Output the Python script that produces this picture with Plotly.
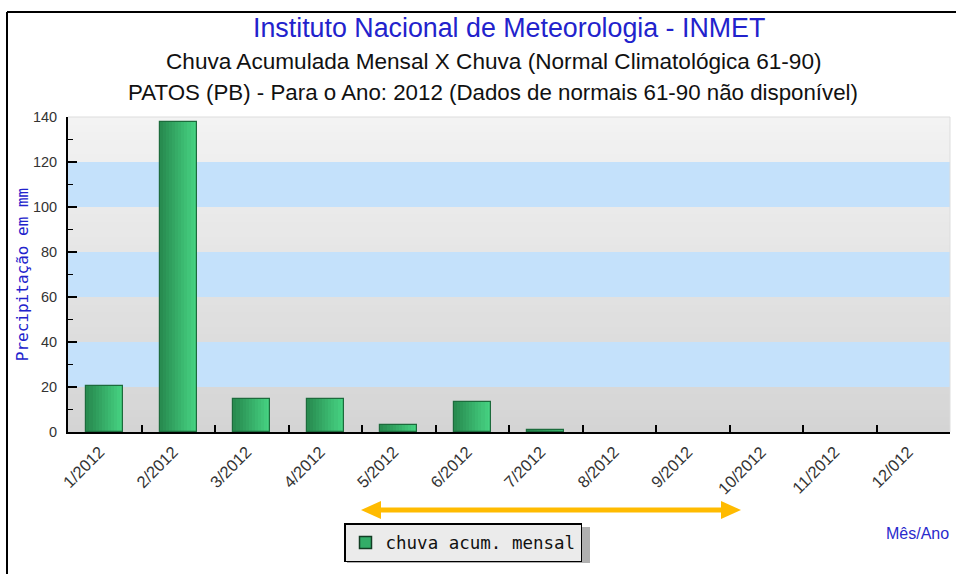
import plotly.graph_objects as go

# ---- data ----
months = ["1/2012", "2/2012", "3/2012", "4/2012", "5/2012", "6/2012",
          "7/2012", "8/2012", "9/2012", "10/2012", "11/2012", "12/012"]
rain = [20.6, 137.8, 14.7, 14.7, 3.1, 13.3, 0.9, 0, 0, 0, 0, 0]
y_ticks = [0, 20, 40, 60, 80, 100, 120, 140]
series_name = "chuva acum. mensal"

# ---- geometry helpers (pixel -> paper) ----
L, R, T, B = 68, 950, 117, 432
W, H = 956, 574
def px(x):
    return (x - L) / (R - L)
def py(y):
    return (B - y) / (B - T)

def lerp_color(c1, c2, t):
    return "rgb(%d,%d,%d)" % tuple(int(round(a + (b - a) * t)) for a, b in zip(c1, c2))

fig = go.Figure()

# gradient bars built from slices
N = 12
bw = 0.5
dark, light = (40, 140, 80), (70, 210, 130)
for i in range(N):
    fig.add_trace(go.Bar(
        x=months, y=rain, width=bw / N * 1.05, offset=-bw / 2 + i * bw / N,
        marker=dict(color=lerp_color(dark, light, i / (N - 1)), line=dict(width=0)),
        showlegend=False, hoverinfo="skip"))
# outline
fig.add_trace(go.Bar(
    x=months, y=rain, width=bw, offset=-bw / 2,
    marker=dict(color="rgba(0,0,0,0)",
                line=dict(color="#1c6b3c", width=[1.2 if v > 0 else 0 for v in rain])),
    showlegend=False, name=series_name))
# legend entry
fig.add_trace(go.Bar(
    x=months, y=[None] * len(months), name=series_name,
    marker=dict(color="#32ad68", line=dict(color="#123d24", width=1.5)),
    showlegend=True))

shapes = []
# background bands
blue = "#c4e1fb"
gtop, gbot = (243, 243, 243), (212, 212, 212)
for k in range(7):
    lo, hi = k * 20, (k + 1) * 20
    if k % 2 == 1:
        shapes.append(dict(type="rect", xref="paper", yref="y", x0=0, x1=1, y0=lo, y1=hi,
                           fillcolor=blue, line=dict(width=0), layer="below"))
    else:
        S = 6
        for s in range(S):
            a = lo + (hi - lo) * s / S
            b = lo + (hi - lo) * (s + 1) / S
            t = 1 - ((a + b) / 2) / 140
            top = b if s == S - 1 else b + 0.6
            shapes.append(dict(type="rect", xref="paper", yref="y", x0=0, x1=1, y0=a, y1=top,
                               fillcolor=lerp_color(gtop, gbot, t), line=dict(width=0),
                               layer="below"))
# faint plot border (top/right)
shapes.append(dict(type="line", xref="paper", yref="paper", x0=0, x1=1, y0=1, y1=1,
                   line=dict(color="#dddddd", width=1)))
shapes.append(dict(type="line", xref="paper", yref="paper", x0=1, x1=1, y0=0, y1=1,
                   line=dict(color="#dddddd", width=1)))
# outer frame (top and left)
shapes.append(dict(type="line", xref="paper", yref="paper", x0=px(7), x1=px(956),
                   y0=py(12), y1=py(12), line=dict(color="black", width=2)))
shapes.append(dict(type="line", xref="paper", yref="paper", x0=px(7), x1=px(7),
                   y0=py(12), y1=py(574), line=dict(color="black", width=2)))
# legend shadow
shapes.append(dict(type="rect", xref="paper", yref="paper", x0=px(347), x1=px(590),
                   y0=py(563), y1=py(527), fillcolor="#b0b0b0", line=dict(width=0)))
# orange double arrow
orange = "#ffbb00"
shapes.append(dict(type="line", xref="paper", yref="paper", x0=px(375), x1=px(727),
                   y0=py(510), y1=py(510), line=dict(color=orange, width=5)))
def tri(xtip, xbase, yc, hh):
    return "M %f,%f L %f,%f L %f,%f Z" % (px(xtip), py(yc), px(xbase), py(yc - hh),
                                          px(xbase), py(yc + hh))
shapes.append(dict(type="path", xref="paper", yref="paper", path=tri(361, 381, 510, 9),
                   fillcolor=orange, line=dict(width=0)))
shapes.append(dict(type="path", xref="paper", yref="paper", path=tri(741, 721, 510, 9),
                   fillcolor=orange, line=dict(width=0)))

annotations = [
    dict(text="Instituto Nacional de Meteorologia - INMET", x=px(509), y=py(28),
         xref="paper", yref="paper", showarrow=False, xanchor="center", yanchor="middle",
         font=dict(family="Liberation Sans", size=26.8, color="#2222cc")),
    dict(text="Chuva Acumulada Mensal X Chuva (Normal Climatológica 61-90)", x=px(494), y=py(62),
         xref="paper", yref="paper", showarrow=False, xanchor="center", yanchor="middle",
         font=dict(family="Liberation Sans", size=22.6, color="#111111")),
    dict(text="PATOS (PB) - Para o Ano: 2012 (Dados de normais 61-90 não disponível)",
         x=px(493), y=py(92), xref="paper", yref="paper", showarrow=False,
         xanchor="center", yanchor="middle",
         font=dict(family="Liberation Sans", size=22.3, color="#111111")),
    dict(text="Mês/Ano", x=px(951), y=py(533), xref="paper", yref="paper", showarrow=False,
         xanchor="right", yanchor="middle",
         font=dict(family="Liberation Sans", size=16, color="#2a2acc")),
]

fig.update_layout(
    width=W, height=H,
    margin=dict(l=L, r=W - R, t=T, b=H - B, pad=0),
    paper_bgcolor="white", plot_bgcolor="white",
    barmode="overlay", bargap=0,
    shapes=shapes, annotations=annotations,
    showlegend=True,
    legend=dict(x=px(463), y=py(523), xanchor="center", yanchor="top",
                xref="paper", yref="paper", orientation="h",
                bgcolor="#ebebeb", bordercolor="black", borderwidth=1.5,
                font=dict(family="DejaVu Sans Mono", size=17.5, color="#111111")),
    xaxis=dict(type="category", range=[-0.5, 11.5], tickangle=-45,
               tickson="boundaries", ticks="inside", ticklen=7, tickwidth=1.5,
               tickcolor="black", showline=True, linecolor="black", linewidth=2,
               showgrid=False, zeroline=False, ticklabelstandoff=2, ticklabelshift=-5,
               tickfont=dict(family="Liberation Sans", size=16.5, color="#333333")),
    yaxis=dict(range=[0, 140], tickvals=y_ticks, ticks="inside", ticklen=9, tickwidth=1.5,
               tickcolor="black", showline=True, linecolor="black", linewidth=2,
               showgrid=False, zeroline=False, ticklabelstandoff=6,
               minor=dict(ticks="inside", ticklen=5, dtick=10, tickcolor="black",
                          tickwidth=1.2, showgrid=False),
               tickfont=dict(family="Liberation Sans", size=14.5, color="#333333"),
               title=dict(text="Precipitação em mm", standoff=0,
                          font=dict(family="DejaVu Sans Mono", size=16, color="#2222cc"))),
)

fig.write_html("out.html", post_script="document.body.style.margin='0';",
               config={"displayModeBar": False})
